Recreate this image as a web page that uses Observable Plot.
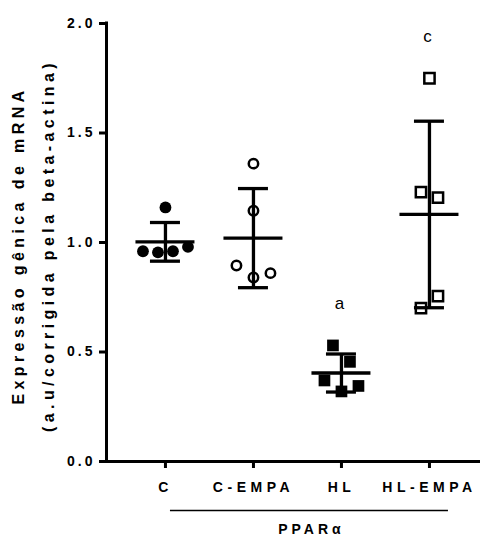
<!DOCTYPE html>
<html><head><meta charset="utf-8">
<script src="https://cdn.jsdelivr.net/npm/d3@7"></script>
<script src="https://cdn.jsdelivr.net/npm/@observablehq/plot@0.6"></script>
<style>
html,body{margin:0;padding:0;background:#fff;}
#chart{width:480px;height:538px;}
svg{font-family:"Liberation Sans",Arial,sans-serif;}
</style></head><body><div id="chart"></div>
<script>
// ---- data ----
const groups = ["C", "C-EMPA", "HL", "HL-EMPA"];
const valuesC = [1.16, 0.96, 0.955, 0.96, 0.98];
const valuesCEmpa = [1.36, 1.145, 0.895, 0.84, 0.86];
const valuesHL = [0.53, 0.455, 0.37, 0.32, 0.345];
const valuesHLEmpa = [1.75, 1.23, 1.205, 0.70, 0.755];
const sigLetters = ["", "", "a", "c"];
const yTicks = [0, 0.5, 1.0, 1.5, 2.0];
const yLabelLines = ["Expressão gênica de mRNA", "(a.u/corrigida pela beta-actina)"];
const groupLabel = "PPARα";

// ---- layout ----
const W = 480, H = 538, mL = 106, mR = 0, mT = 23, mB = 77;
const xDomain = [-0.67, 3.58];
const yDomain = [0, 2];
const pxPerX = (W - mL - mR) / (xDomain[1] - xDomain[0]);
const yPx = v => (H - mB) - (v - yDomain[0]) / (yDomain[1] - yDomain[0]) * (H - mB - mT);

const allValues = [valuesC, valuesCEmpa, valuesHL, valuesHLEmpa];

// scatter layout (rows of nearby points spread horizontally, like Prism)
function layout(vals, gi) {
  const idx = vals.map((v, i) => i).sort((a, b) => vals[b] - vals[a]);
  const rows = [];
  for (const i of idx) {
    const last = rows[rows.length - 1];
    if (last && Math.abs(yPx(vals[i]) - yPx(vals[last[0]])) < 17) last.push(i);
    else rows.push([i]);
  }
  const out = [];
  for (const row of rows) {
    row.sort((a, b) => a - b);
    const sp = row.length >= 4 ? 15 : 17;
    row.forEach((i, k) => {
      const off = (k - (row.length - 1) / 2) * sp;
      out.push({group: groups[gi], gi, value: vals[i], x: gi + off / pxPerX});
    });
  }
  return out;
}
const points = allValues.flatMap((vals, gi) => layout(vals, gi));
const stats = allValues.map((vals, gi) => ({
  gi, group: groups[gi], mean: d3.mean(vals), sd: d3.deviation(vals),
  max: d3.max(vals), letter: sigLetters[gi]
}));

const capHalf = 15 / pxPerX, meanHalf = 29.5 / pxPerX;
const barW = 3.3;
const byGroup = g => points.filter(d => d.group === g);

const plot = Plot.plot({
  width: W, height: H,
  marginLeft: mL, marginRight: mR, marginTop: mT, marginBottom: mB,
  x: {domain: xDomain},
  y: {domain: yDomain},
  style: {background: "#fff", fontFamily: '"Liberation Sans", Arial, sans-serif', overflow: "visible"},
  marks: [
    Plot.ruleY([0], {strokeWidth: 3}),
    Plot.ruleX([xDomain[0]], {y1: yDomain[0], y2: yDomain[1], strokeWidth: 3, strokeLinecap: "square"}),
    Plot.axisY({ticks: yTicks, tickFormat: d3.format(".1f"), tickSize: 7, tickPadding: 4,
      strokeWidth: 3, fontSize: 14, fontWeight: "bold", label: null}),
    Plot.axisX({ticks: [0, 1, 2, 3], tickFormat: i => groups[i], tickSize: 7, tickPadding: 14,
      strokeWidth: 3, fontSize: 14, fontWeight: "bold", label: null}),
    // error bars (mean ± SD)
    Plot.ruleX(stats, {x: "gi", y1: d => d.mean - d.sd, y2: d => d.mean + d.sd, strokeWidth: barW}),
    Plot.ruleY(stats, {y: d => d.mean + d.sd, x1: d => d.gi - capHalf, x2: d => d.gi + capHalf, strokeWidth: barW}),
    Plot.ruleY(stats, {y: d => d.mean - d.sd, x1: d => d.gi - capHalf, x2: d => d.gi + capHalf, strokeWidth: barW}),
    Plot.ruleY(stats, {y: "mean", x1: d => d.gi - meanHalf, x2: d => d.gi + meanHalf, strokeWidth: barW}),
    // points
    Plot.dot(byGroup("C"), {x: "x", y: "value", r: 5.9, fill: "black", symbol: "circle"}),
    Plot.dot(byGroup("C-EMPA"), {x: "x", y: "value", r: 4.7, fill: "none", stroke: "black", strokeWidth: 2.5, symbol: "circle"}),
    Plot.dot(byGroup("HL"), {x: "x", y: "value", r: 6.6, fill: "black", symbol: "square"}),
    Plot.dot(byGroup("HL-EMPA"), {x: "x", y: "value", r: 5.8, fill: "none", stroke: "black", strokeWidth: 2.5, symbol: "square"}),
    // significance letters
    Plot.text(stats.filter(d => d.letter), {x: "gi", y: "max", text: "letter", dy: -42, dx: -2, fontSize: 17, fill: "black"}),
    // y label (two lines)
    Plot.text([yLabelLines[0]], {frameAnchor: "left", textAnchor: "middle", rotate: -90, dx: -88, dy: 3, fontSize: 16, fontWeight: "bold"}),
    Plot.text([yLabelLines[1]], {frameAnchor: "left", textAnchor: "middle", rotate: -90, dx: -58, dy: 3, fontSize: 16, fontWeight: "bold"}),
    // group bracket
    Plot.ruleY([yDomain[0]], {x1: 0 + 5 / pxPerX, x2: 3 + 19 / pxPerX, dy: 49, strokeWidth: 1.5}),
    Plot.text([groupLabel], {x: 1.5 + 14 / pxPerX, y: yDomain[0], dy: 68, fontSize: 14, fontWeight: "bold"})
  ]
});
document.getElementById("chart").appendChild(plot);
const svg = d3.select(plot);
svg.selectAll('g[aria-label="y-axis tick label"] text').style("letter-spacing", "3px");
svg.selectAll('g[aria-label="x-axis tick label"] text').style("letter-spacing", "4.5px");
svg.selectAll("text").filter(function() { return yLabelLines.includes(this.textContent); }).style("letter-spacing", "4.4px");
svg.selectAll("text").filter(function() { return this.textContent === groupLabel; }).style("letter-spacing", "4px");
</script></body></html>
